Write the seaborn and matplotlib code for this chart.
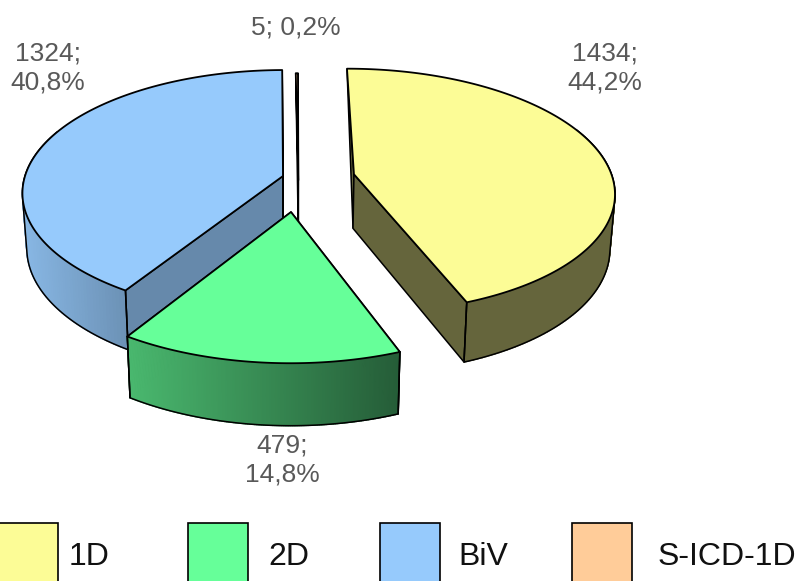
import numpy as np
import matplotlib
matplotlib.use('Agg')
import matplotlib.pyplot as plt
from matplotlib.patches import Polygon, Rectangle
import seaborn as sns

categories = ['1D', '2D', 'BiV', 'S-ICD-1D']
counts = [1434, 479, 1324, 5]

sns.set_theme(style='white')
plt.rcParams['font.family'] = ['Liberation Sans', 'DejaVu Sans']
palette = sns.color_palette(['#FCFC96', '#66FF99', '#96CAFC', '#FFCC99'])

# view of the tilted pie, all in pixels
xc, yc = 295, 190
R, Rq = 262, 124
persp = 0.0011
depth = 55.7
shrink = 0.984

# exploded position of each slice on the flat pie plane
offsets = {'1D': (60, 16), '2D': (-3.9, -21.5), 'BiV': (-12.2, 14.2), 'S-ICD-1D': (3.4, 10)}
label_pos = {'1D': (605, 68), '2D': (282, 460), 'BiV': (48, 68), 'S-ICD-1D': (296, 27)}
legend_x = [-2, 188, 380, 572]
legend_text_x = [69, 268, 458, 658]

wall_range = {'1D': (300, 620), '2D': (128, 401), 'BiV': (25, 125), 'S-ICD-1D': (290, 300)}
wall_shades = {'1D': (0.4, 0.4, 0.4), '2D': (0.72, 0.36, 0.4), 'BiV': (0.9, 0.72, 0.68), 'S-ICD-1D': (0.4, 0.4, 0.2)}
draw_order = {'S-ICD-1D': 1, 'BiV': 2, '1D': 3, '2D': 4}


def project(X, Y, low=False):
    s = 1 / (1 + persp * Y)
    k = shrink if low else 1
    z = depth if low else 0
    return xc + X * s * k, yc + (z - Y) * s * k


def arc(name, t, low=False):
    ox, oy = offsets[name]
    r = np.radians(t)
    x, y = project(ox + R * np.sin(r), oy + Rq * np.cos(r), low)
    return np.column_stack([x, y])


def shade(col, f):
    return tuple(np.array(col) * f)


def hull(points):
    # monotone chain, gives the outline of the wall
    pts = sorted(map(tuple, points))

    def half(seq):
        out = []
        for p in seq:
            while len(out) > 1 and ((out[-1][0] - out[-2][0]) * (p[1] - out[-2][1])
                                    - (out[-1][1] - out[-2][1]) * (p[0] - out[-2][0])) <= 0:
                out.pop()
            out.append(p)
        return out[:-1]

    return half(pts) + half(pts[::-1])


fig = plt.figure(figsize=(7.98, 5.81), dpi=100)
ax = fig.add_axes([0, 0, 1, 1])
ax.set_xlim(0, 798)
ax.set_ylim(581, 0)
ax.axis('off')


def draw_slice(name, t0, t1, col, z):
    wall_left, wall_right, face_shade = wall_shades[name]
    ox, oy = offsets[name]
    t = np.linspace(t0, t1, 160)
    top = arc(name, t)
    low = arc(name, t, low=True)
    apex = np.array(project(ox, oy))
    apex_low = np.array(project(ox, oy, True))

    # flat cut faces, a corner at the back is hidden so the face is just a triangle
    for i in (0, -1):
        if np.cos(np.radians(t[i])) < 0:
            pts = [apex, top[i], low[i], apex_low]
        else:
            pts = [apex, top[i], apex_low]
        ax.add_patch(Polygon(pts, closed=True, fc=shade(col, face_shade), ec='black', lw=1.1, zorder=z))

    # curved wall, only the part that can be seen
    front = np.where(np.cos(np.radians(t)) < 0.4)[0]
    if len(front) > 1 and t1 - t0 > 5:
        a, b = front[0], front[-1]
        lo, hi = wall_range[name]
        for i in range(a, b):
            mid = (top[i, 0] + top[i + 1, 0]) / 2
            f = wall_left + (wall_right - wall_left) * (mid - lo) / (hi - lo)
            f = np.clip(f, min(wall_left, wall_right), max(wall_left, wall_right))
            c = shade(col, f)
            ax.add_patch(Polygon([top[i], top[i + 1], low[i + 1], low[i]], closed=True,
                                 fc=c, ec=c, lw=1.0, zorder=z))
        outline = hull(np.vstack([top[a:b + 1], low[a:b + 1]]))
        ax.add_patch(Polygon(outline, closed=True, fc='none', ec='black', lw=1.1, zorder=z))
        for i in (0, -1):
            if np.cos(np.radians(t[i])) < 0:
                ax.plot([top[i, 0], low[i, 0]], [top[i, 1], low[i, 1]], color='black', lw=1.1, zorder=z)

    # top of the slice
    ax.add_patch(Polygon(np.vstack([apex, top]), closed=True, fc=col, ec='black', lw=1.3,
                         joinstyle='round', zorder=z + 0.5))


total = sum(counts)
start = 0
for name, v, col in zip(categories, counts, palette):
    sweep = 360 * v / total
    draw_slice(name, start, start + sweep, col, draw_order[name])
    pct = f'{100 * v / total:.1f}'.replace('.', ',')
    if sweep < 5:
        txt = f'{v}; {pct}%'
    else:
        txt = f'{v};\n{pct}%'
    ax.text(*label_pos[name], txt, ha='center', va='center', fontsize=19, color='#595959',
            linespacing=1.25, zorder=10)
    start += sweep

for name, col, bx, tx in zip(categories, palette, legend_x, legend_text_x):
    ax.add_patch(Rectangle((bx, 523), 60, 70, fc=col, ec='black', lw=1.2, zorder=10))
    ax.text(tx, 557, name, ha='left', va='center', fontsize=23, color='#111111', zorder=10)

fig.savefig('out.png', dpi=100)
